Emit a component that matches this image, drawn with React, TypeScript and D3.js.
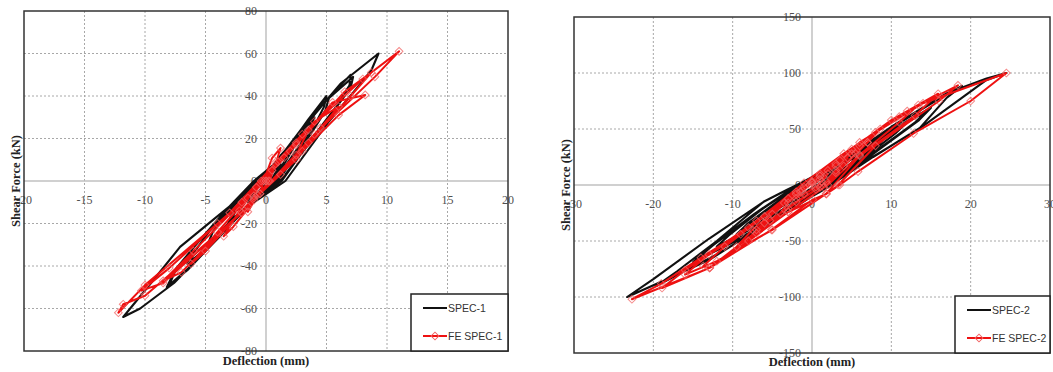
import * as d3 from 'd3'
import React from 'react'

// SPEC-1 test loops (deflection mm, shear kN)
const spec1: [number, number][] = [
  [0, 0], [0.4, 3], [0.8, 6], [1.2, 8], [0.9, 5], [0.5, 1], [0.3, 0], [-0.3, -3], [-0.9, -7], [-1.5, -10], [-1.1, -6], [-0.6, -2], [-0.3, 0],
  [0.3, 5], [1.2, 12], [2, 17], [2.5, 20], [2.2, 16], [1.6, 10], [0.9, 3], [0.6, 0], [-0.6, -6], [-1.8, -13], [-3, -20], [-2.6, -15], [-1.8, -9], [-0.9, -3], [-0.5, 0],
  [0.4, 6], [1.4, 13], [2.3, 19], [2.7, 21], [2.4, 17], [1.7, 10], [0.9, 2], [0.5, 0], [-0.8, -8], [-2, -15], [-3.2, -21], [-2.8, -15], [-1.8, -8], [-0.6, 0],
  [0.6, 6], [1.8, 15], [3, 23], [4, 30], [3.6, 25], [2.8, 17], [1.6, 7], [0.8, 0], [-0.8, -8], [-2.6, -17], [-4, -25], [-4.9, -31], [-4.4, -24], [-3, -14], [-1.6, -5], [-0.7, 0],
  [0.5, 6], [2, 17], [3.5, 29], [5, 40], [4.8, 35], [4, 26], [2.4, 12], [1, 0], [-1, -9], [-3, -21], [-5, -32], [-6.3, -40], [-6, -34], [-4.6, -23], [-2.6, -11], [-0.9, 0],
  [0.6, 7], [2.2, 19], [3.8, 31], [5.2, 39], [4.9, 33], [3.8, 23], [2.2, 10], [1, 0], [-1.1, -10], [-3.2, -22], [-5.2, -33], [-6.5, -39], [-6.1, -32], [-4.4, -21], [-2.4, -9], [-0.8, 0],
  [0.6, 7], [2.5, 21], [4.8, 37], [7, 50], [6.9, 45], [5.8, 35], [3.8, 20], [1.3, 0], [-1.2, -10], [-3.8, -26], [-6.2, -40], [-8.2, -50], [-7.6, -43], [-5.8, -30], [-3.2, -13], [-1, 0],
  [0.7, 8], [2.8, 23], [5, 38], [7.2, 49], [7, 44], [5.6, 33], [3.6, 18], [1.2, 0], [-1.3, -11], [-4, -27], [-6.5, -42], [-8, -49], [-7.4, -41], [-5.5, -28], [-3, -12], [-1, 0],
  [0.8, 8], [3.2, 26], [6.2, 46], [9.3, 60], [8.7, 52], [7.4, 43], [5.2, 28], [1.6, 0], [-1.5, -12], [-4.5, -30], [-7.6, -48], [-10.4, -60], [-11.8, -64],
  [-9.5, -48], [-7.1, -31], [-4.1, -17], [-1.5, -5], [0, 2],
]

// FE SPEC-1 model (one diamond per point)
const feSpec1: [number, number][] = [
  [0, 0], [0.5, 5], [0.2, 0], [-0.5, -6], [-0.2, 0],
  [0.5, 10.8], [1.2, 15.5], [0.8, 8], [0.3, 0], [-0.7, -6.6], [-1.5, -14.5], [-1, -7], [-0.4, 0],
  [1, 9], [2.5, 18], [3.5, 24], [2.5, 12.2], [1.2, 3], [-0.5, -6], [-2.7, -21.5], [-3.5, -26], [-2.2, -14], [-0.8, -3],
  [1.5, 11], [4, 28], [6, 35], [4.5, 25], [2.5, 10], [-1, -8], [-5, -33], [-6.2, -39], [-4, -24], [-1.5, -8],
  [2, 14], [5.5, 37], [8.2, 40.5], [6, 31], [3, 14], [-1, -9], [-7, -43], [-8.5, -47], [-6, -33], [-2, -10],
  [2.5, 17], [6.5, 42], [8.7, 51], [7, 40], [3.5, 18], [-1.5, -12], [-8.5, -48], [-10.3, -51.6], [-8, -41], [-3, -15],
  [3, 22], [8, 48], [11, 61], [9, 49], [4, 22], [-2, -15], [-10, -54], [-11.8, -58], [-12.2, -62], [-10, -49], [-4, -20], [0, 0],
]

// SPEC-2 test loops
const spec2: [number, number][] = [
  [0, 0], [1.5, 7], [3, 13], [2.2, 8], [1, 1], [0.6, 0], [-1, -7], [-3, -14], [-2.2, -8], [-1, -2], [-0.6, 0],
  [1.5, 8], [3.5, 17], [6, 27], [5, 20], [3, 9], [1.2, 0], [-1, -10], [-3.5, -18], [-6, -28], [-5, -21], [-3, -10], [-1, 0],
  [1.5, 9], [5, 25], [9, 42], [7.8, 34], [5, 18], [1.6, 0], [-1.5, -13], [-5, -27], [-9, -42], [-7.8, -34], [-4.5, -16], [-1.3, 0],
  [1.8, 10], [5.5, 27], [9.5, 44], [8.3, 36], [5.3, 19], [1.7, 0], [-1.7, -14], [-5.5, -29], [-9.5, -44], [-8.2, -35], [-4.8, -17], [-1.4, 0],
  [2, 12], [6.5, 33], [12, 56], [10.5, 46], [6.5, 24], [2, 0], [-2, -16], [-6.5, -35], [-12, -55], [-10.5, -45], [-6, -20], [-1.6, 0],
  [2.5, 14], [8, 40], [14.5, 66], [13, 56], [8, 30], [2.4, 0], [-2, -18], [-8, -43], [-14.5, -66], [-12.5, -54], [-7, -25], [-1.8, 0],
  [2.8, 16], [8.5, 43], [15, 69], [13.5, 58], [8.3, 31], [2.5, 0], [-2.2, -19], [-8.5, -46], [-15, -69], [-13, -56], [-7.3, -26], [-1.9, 0],
  [3, 17], [10, 51], [16, 77], [18.9, 88.5], [17, 78], [13.6, 51], [7.7, 25], [2.7, 1.5], [0, -10], [-5, -33], [-12, -62], [-19.6, -90],
  [-17, -77], [-12, -50], [-6.1, -15], [-3.2, -4.5], [-1.9, 0],
  [3, 18], [10, 52], [17, 82], [22, 95], [24.5, 100], [22, 93.8], [13.6, 50.6], [7.7, 25.3], [2.7, 1.5], [0, -9], [-6, -36], [-13, -67],
  [-19.5, -88], [-23.3, -100], [-20, -84], [-13, -48], [-6.1, -15], [-3.2, -4.5], [-1.5, 0], [0, 4],
]

// FE SPEC-2 model
const feSpec2: [number, number][] = [
  [0, 0], [1, 5], [2, 10], [1.2, 3], [0.5, -2], [-1, -8], [-2, -12], [-1.2, -5], [-0.3, 0],
  [1, 8], [3, 17], [4.5, 24], [3, 13], [1.8, 3], [0.5, -4], [-2, -15], [-4, -25], [-3, -16], [-1.5, -6], [0, 2],
  [2, 13], [5, 28], [7, 38], [5.5, 28], [3, 11], [1, -2], [-3, -21], [-6, -34], [-7, -40], [-5, -26], [-2, -8], [0, 3],
  [3, 19], [6, 35], [8.6, 50], [7, 38], [4, 17], [1.5, -2], [-3, -24], [-7, -43], [-9.5, -55], [-7.5, -40], [-3.5, -16], [0, 3],
  [3.5, 22], [8, 47], [11, 61], [13.4, 71.4], [11, 56], [6, 27], [2, 0], [-3, -24], [-8, -50], [-12.9, -73.8], [-13.7, -72.3], [-11, -55], [-6, -28], [-1, -2], [1, 8],
  [5, 32], [10, 58], [15.9, 81.5], [13, 62], [6, 26], [1.8, -7.7], [-5, -40], [-12, -68], [-16, -80], [-13, -62], [-7, -32], [-1, 2],
  [4, 28], [12, 66], [18.4, 89], [16, 75], [8, 35], [3.3, 0], [1.8, -8], [-5.3, -32], [-12.9, -74], [-18.9, -92], [-16, -76], [-9, -44], [-2, -6], [1, 10],
  [6, 38], [14, 73], [24.5, 100], [20, 75], [12.8, 46], [5.8, 12], [3.5, 0], [1.8, -8], [0.1, -13], [-5.1, -40], [-12.9, -74], [-22.7, -102],
  [-19, -88], [-14, -65], [-8, -38], [-3, -12], [0, 2],
]

const xTicks1 = [-20, -15, -10, -5, 0, 5, 10, 15, 20]
const yTicks1 = [-80, -60, -40, -20, 0, 20, 40, 60, 80]
const xTicks2 = [-30, -20, -10, 0, 10, 20, 30]
const yTicks2 = [-150, -100, -50, 0, 50, 100, 150]

const TICK_FONT = '"Liberation Serif", "DejaVu Serif", serif'
const LEGEND_FONT = '"Liberation Sans Narrow", "Liberation Sans", Arial, sans-serif'

const Panel = ({ box, xDomain, yDomain, xTicks, yTicks, test, model, names, yTitleX, xTitleY, legend, yLabelGap }) => {
  const x = d3.scaleLinear().domain(xDomain).range([box.left, box.right])
  const y = d3.scaleLinear().domain(yDomain).range([box.bottom, box.top])
  const line = d3.line<[number, number]>().x(d => x(d[0])).y(d => y(d[1]))
  const diamond = d3.symbol().type(d3.symbolSquare).size(30)()
  const x0 = x(0)
  const y0 = y(0)

  return (
    <g>
      {/* dashed grid */}
      {xTicks.filter(t => t !== 0 && t !== xDomain[0] && t !== xDomain[1]).map(t => (
        <line key={'gx' + t} x1={x(t)} x2={x(t)} y1={box.top} y2={box.bottom} stroke="#a8a8a8" strokeDasharray="2,2" />
      ))}
      {yTicks.filter(t => t !== 0 && t !== yDomain[0] && t !== yDomain[1]).map(t => (
        <line key={'gy' + t} y1={y(t)} y2={y(t)} x1={box.left} x2={box.right} stroke="#a8a8a8" strokeDasharray="2,2" />
      ))}
      {/* zero axes */}
      <line x1={x0} x2={x0} y1={box.top} y2={box.bottom} stroke="#c0c0c0" strokeWidth={1.5} />
      <line y1={y0} y2={y0} x1={box.left} x2={box.right} stroke="#c0c0c0" strokeWidth={1.5} />

      {/* tick labels on the zero axes */}
      {xTicks.map(t => (
        <text key={'tx' + t} x={x(t)} y={y0 + 23} textAnchor="middle" fontFamily={TICK_FONT} fontSize={12} fill="#505050">{t}</text>
      ))}
      {yTicks.map(t => (
        <text key={'ty' + t} x={x0 - yLabelGap} y={y(t) + 4} textAnchor="end" fontFamily={TICK_FONT} fontSize={12} fill="#505050">{t}</text>
      ))}

      <path d={line(test)} fill="none" stroke="#111" strokeWidth={2.1} strokeLinejoin="round" />
      <path d={line(model)} fill="none" stroke="#ee1111" strokeWidth={2} strokeLinejoin="round" />
      {model.map((d, i) => (
        <path key={'m' + i} d={diamond} transform={`translate(${x(d[0])},${y(d[1])}) rotate(45)`} fill="none" stroke="#f26060" strokeOpacity={0.75} strokeWidth={1} />
      ))}

      <rect x={box.left} y={box.top} width={box.right - box.left} height={box.bottom - box.top} fill="none" stroke="#333" strokeWidth={1.5} />

      <text x={x0} y={xTitleY} textAnchor="middle" fontFamily={TICK_FONT} fontWeight="bold" fontSize={12.5} fill="#222">Deflection (mm)</text>
      <text transform={`translate(${yTitleX},${(box.top + box.bottom) / 2}) rotate(-90)`} textAnchor="middle" fontFamily={TICK_FONT} fontWeight="bold" fontSize={12.5} fill="#222">Shear Force (kN)</text>

      {/* legend */}
      <rect x={legend.left} y={legend.top} width={box.right - legend.left} height={box.bottom - legend.top} fill="#fff" stroke="#222" strokeWidth={1.5} />
      <line x1={legend.left + 12} x2={legend.left + 36} y1={legend.top + 14} y2={legend.top + 14} stroke="#111" strokeWidth={2} />
      <text x={legend.left + 37} y={legend.top + 18} fontFamily={LEGEND_FONT} fontSize={10.5} fill="#333">{names[0]}</text>
      <line x1={legend.left + 12} x2={legend.left + 36} y1={legend.top + 42} y2={legend.top + 42} stroke="#ee1111" strokeWidth={2} />
      <path d={diamond} transform={`translate(${legend.left + 24},${legend.top + 42}) rotate(45)`} fill="none" stroke="#f26060" strokeWidth={1} />
      <text x={legend.left + 37} y={legend.top + 46} fontFamily={LEGEND_FONT} fontSize={10.5} fill="#333">{names[1]}</text>
    </g>
  )
}

export default function App() {
  return (
    <svg width={1053} height={372} style={{ position: 'absolute', left: 0, top: 0, background: '#fff' }}>
      <Panel
        box={{ left: 24, right: 508, top: 11, bottom: 351 }}
        xDomain={[-20, 20]}
        yDomain={[-80, 80]}
        xTicks={xTicks1}
        yTicks={yTicks1}
        test={spec1}
        model={feSpec1}
        names={['SPEC-1', 'FE SPEC-1']}
        yTitleX={20}
        xTitleY={365}
        legend={{ left: 411, top: 294 }}
        yLabelGap={9}
      />
      <Panel
        box={{ left: 574, right: 1050, top: 17, bottom: 353 }}
        xDomain={[-30, 30]}
        yDomain={[-150, 150]}
        xTicks={xTicks2}
        yTicks={yTicks2}
        test={spec2}
        model={feSpec2}
        names={['SPEC-2', 'FE SPEC-2']}
        yTitleX={570}
        xTitleY={366}
        legend={{ left: 955, top: 296 }}
        yLabelGap={11}
      />
    </svg>
  )
}
